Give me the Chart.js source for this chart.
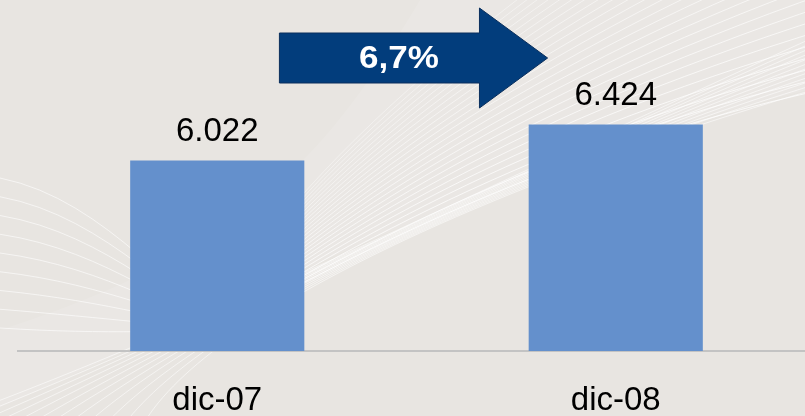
<!DOCTYPE html>
<html>
<head>
<meta charset="utf-8">
<script src="https://cdn.jsdelivr.net/npm/chart.js@4/dist/chart.umd.min.js"></script>
<style>
  html, body { margin: 0; padding: 0; overflow: hidden; background: #e8e5e1; }
  #chart { display: block; }
</style>
</head>
<body>
<canvas id="chart" width="820" height="416"></canvas>
<script>
// categories and values
const categories = ["dic-07", "dic-08"];
const employees = [6022, 6424];
const axisMin = 3900;
const axisMax = 7700;

const BAR_COLOR = "#6490cc";
const ARROW_COLOR = "#023d7c";

// 6022 -> "6.022"
function fmtThousands(v) {
  return String(v).replace(/\B(?=(\d{3})+(?!\d))/g, ".");
}

// growth label, spanish decimal comma
function growthLabel() {
  const pct = (employees[1] / employees[0] - 1) * 100;
  return pct.toFixed(1).replace(".", ",") + "%";
}

// white swoosh lines in the background
const backgroundPlugin = {
  id: "bgSwoosh",
  beforeDraw(chart) {
    const ctx = chart.ctx;
    ctx.save();
    ctx.fillStyle = "#e8e5e1";
    ctx.fillRect(0, 0, chart.width, chart.height);

    // faint brighter band
    ctx.fillStyle = "rgba(255,255,255,0.10)";
    ctx.beginPath();
    ctx.moveTo(-20, 416);
    ctx.bezierCurveTo(250, 300, 500, 160, 830, 85);
    ctx.lineTo(830, 0);
    ctx.lineTo(420, 0);
    ctx.bezierCurveTo(330, 150, 250, 250, 0, 330);
    ctx.closePath();
    ctx.fill();

    ctx.lineWidth = 1;
    // lines coming in from the left edge, sinking under the first bar
    const n = 9;
    for (let i = 0; i < n; i++) {
      const t = i / (n - 1);
      ctx.strokeStyle = "rgba(255,255,255,0.6)";
      ctx.beginPath();
      ctx.moveTo(0, 178 + 150 * t);
      ctx.bezierCurveTo(110, 200 + 135 * t, 180, 310 + 20 * t, 240, 330);
      ctx.stroke();
    }
    // fan rising to the top right
    const k = 26;
    for (let i = 0; i < k; i++) {
      const t = i / (k - 1);
      ctx.strokeStyle = "rgba(255,255,255," + (0.4 + 0.35 * (1 - t)) + ")";
      ctx.beginPath();
      ctx.moveTo(200, 335);
      ctx.bezierCurveTo(300, 290 - 130 * t, 500, 160 - 170 * t, 830, 88 - 300 * t);
      ctx.stroke();
    }
    // lines from the bottom left corner
    const m = 12;
    for (let i = 0; i < m; i++) {
      const t = i / (m - 1);
      ctx.strokeStyle = "rgba(255,255,255,0.55)";
      ctx.beginPath();
      ctx.moveTo(-80 + 220 * t, 430);
      ctx.bezierCurveTo(200, 330 - 15 * t, 500, 180, 830, 30 + 55 * t);
      ctx.stroke();
    }
    ctx.restore();
  },
};

// value labels over the bars and the growth arrow
const annotatePlugin = {
  id: "annotate",
  afterDatasetsDraw(chart) {
    const ctx = chart.ctx;
    const meta = chart.getDatasetMeta(0);
    ctx.save();
    ctx.fillStyle = "#000000";
    ctx.font = "33px 'Liberation Sans', Arial, sans-serif";
    ctx.textAlign = "center";
    ctx.textBaseline = "alphabetic";
    meta.data.forEach((bar, i) => {
      ctx.fillText(fmtThousands(employees[i]), bar.x, bar.y - 20);
    });

    // arrow between the two categories
    const xs = chart.scales.x;
    const x0 = xs.getPixelForValue(0);
    const d = xs.getPixelForValue(1) - x0;
    const left = x0 + 0.156 * d;
    const base = x0 + 0.658 * d;
    const tip = x0 + 0.829 * d;
    const cy = 58;
    ctx.beginPath();
    ctx.moveTo(left, cy - 25);
    ctx.lineTo(base, cy - 25);
    ctx.lineTo(base, cy - 50);
    ctx.lineTo(tip, cy);
    ctx.lineTo(base, cy + 50);
    ctx.lineTo(base, cy + 25);
    ctx.lineTo(left, cy + 25);
    ctx.closePath();
    ctx.fillStyle = ARROW_COLOR;
    ctx.fill();
    ctx.strokeStyle = "#0a2f5c";
    ctx.lineWidth = 1;
    ctx.stroke();

    ctx.fillStyle = "#ffffff";
    ctx.font = "bold 31px 'Liberation Sans', Arial, sans-serif";
    ctx.textBaseline = "alphabetic";
    ctx.translate(x0 + 0.456 * d, cy + 10);
    ctx.scale(1.13, 1);
    ctx.fillText(growthLabel(), 0, 0);
    ctx.restore();
  },
};

new Chart(document.getElementById("chart"), {
  type: "bar",
  data: {
    labels: categories,
    datasets: [
      {
        data: employees,
        backgroundColor: BAR_COLOR,
        borderWidth: 0,
        categoryPercentage: 1,
        barPercentage: 0.437,
      },
    ],
  },
  options: {
    responsive: false,
    animation: false,
    layout: { padding: { top: 10, right: 5, bottom: 3, left: 18 } },
    plugins: {
      legend: { display: false },
      tooltip: { enabled: false },
    },
    scales: {
      x: {
        grid: { display: false, drawTicks: false },
        border: { display: true, color: "#c3c3c3", width: 2 },
        ticks: {
          color: "#000000",
          padding: 33,
          font: { family: "'Liberation Sans', Arial, sans-serif", size: 33, lineHeight: 1 },
        },
        afterFit(scale) {
          scale.height = 62;
        },
      },
      y: {
        display: false,
        min: axisMin,
        max: axisMax,
      },
    },
  },
  plugins: [backgroundPlugin, annotatePlugin],
});
</script>
</body>
</html>
